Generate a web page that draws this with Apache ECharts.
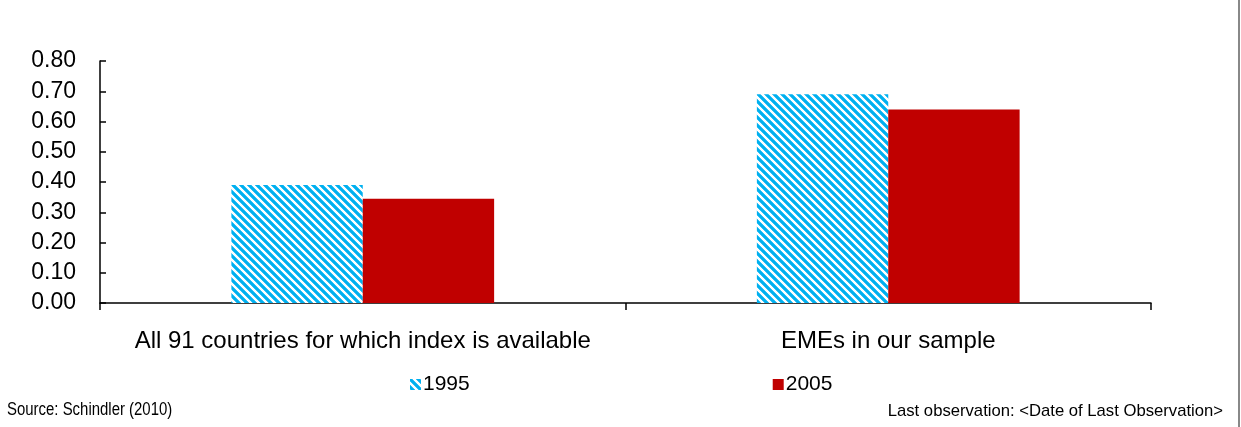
<!DOCTYPE html>
<html>
<head>
<meta charset="utf-8">
<script src="https://cdn.jsdelivr.net/npm/echarts@6/dist/echarts.min.js"></script>
<style>
html,body{margin:0;padding:0;background:#fff;}
#chart{width:1241px;height:427px;}
</style>
</head>
<body>
<div id="chart"></div>
<script>
var categories = ['All 91 countries for which index is available', 'EMEs in our sample'];
var seriesNames = ['1995', '2005'];
var values1995 = [0.39, 0.69];
var values2005 = [0.345, 0.64];
var yTicks = [0, 0.1, 0.2, 0.3, 0.4, 0.5, 0.6, 0.7, 0.8];

function makeStripe() {
  var N = 8, period = 8;
  var c = document.createElement('canvas');
  c.width = N; c.height = N;
  var ctx = c.getContext('2d');
  var img = ctx.createImageData(N, N);
  var cr = 0, cg = 176, cb = 240;
  for (var y = 0; y < N; y++) {
    for (var x = 0; x < N; x++) {
      var ph = (((x - y) % period) + period) % period / period;
      var t = 0.5 + 0.5 * Math.cos(2 * Math.PI * ph);
      t = Math.min(1, Math.max(0, (t - 0.15) / 0.45));
      var i = (y * N + x) * 4;
      img.data[i] = Math.round(255 + (cr - 255) * t);
      img.data[i + 1] = Math.round(255 + (cg - 255) * t);
      img.data[i + 2] = Math.round(255 + (cb - 255) * t);
      img.data[i + 3] = 255;
    }
  }
  ctx.putImageData(img, 0, 0);
  return c;
}

var stripe = { image: makeStripe(), repeat: 'repeat' };
var font = '"Liberation Sans", Arial, sans-serif';

var chart = echarts.init(document.getElementById('chart'), null, { renderer: 'canvas' });
chart.setOption({
  animation: false,
  backgroundColor: '#fff',
  grid: { left: 100, right: 90, top: 61, bottom: 124, containLabel: false },
  legend: {
    data: seriesNames,
    left: 405,
    top: 369,
    itemWidth: 11,
    itemHeight: 11,
    itemGap: 303,
    textStyle: { fontFamily: font, fontSize: 21, color: '#000', padding: [0, 0, 0, -3] },
    icon: 'rect'
  },
  xAxis: {
    type: 'category',
    data: categories,
    axisLine: { lineStyle: { color: '#000', width: 1.5 } },
    axisTick: { show: true, length: 7, lineStyle: { color: '#000', width: 1.5 } },
    axisLabel: { interval: 0, fontFamily: font, fontSize: 24, color: '#000', margin: 26 },
    splitLine: { show: false }
  },
  yAxis: {
    type: 'value',
    min: 0,
    max: 0.8,
    interval: 0.1,
    axisLine: { show: true, lineStyle: { color: '#000', width: 1.5 } },
    axisTick: { show: true, inside: true, length: 6, lineStyle: { color: '#000', width: 1.5 } },
    axisLabel: {
      fontFamily: font, fontSize: 23, color: '#000', margin: 24,
      formatter: function (v) { return v.toFixed(2); }
    },
    splitLine: { show: false }
  },
  series: [
    {
      name: seriesNames[0], type: 'bar', data: values1995,
      barWidth: '25%', barGap: '0%',
      itemStyle: { color: stripe }
    },
    {
      name: seriesNames[1], type: 'bar', data: values2005,
      barWidth: '25%', barGap: '0%',
      itemStyle: { color: '#C00000' }
    }
  ],
  graphic: [
    {
      type: 'text', x: 7, y: 401, scaleX: 0.83,
      style: { text: 'Source: Schindler (2010)', font: '18px ' + font, fill: '#000' }
    },
    {
      type: 'text', x: 1223, y: 403, scaleX: 0.98,
      style: { text: 'Last observation: <Date of Last Observation>', font: '17px ' + font, fill: '#000', align: 'right' }
    },
    {
      type: 'line', shape: { x1: 1239, y1: 0, x2: 1239, y2: 427 },
      style: { stroke: '#888', lineWidth: 2 }
    }
  ]
});
</script>
</body>
</html>
